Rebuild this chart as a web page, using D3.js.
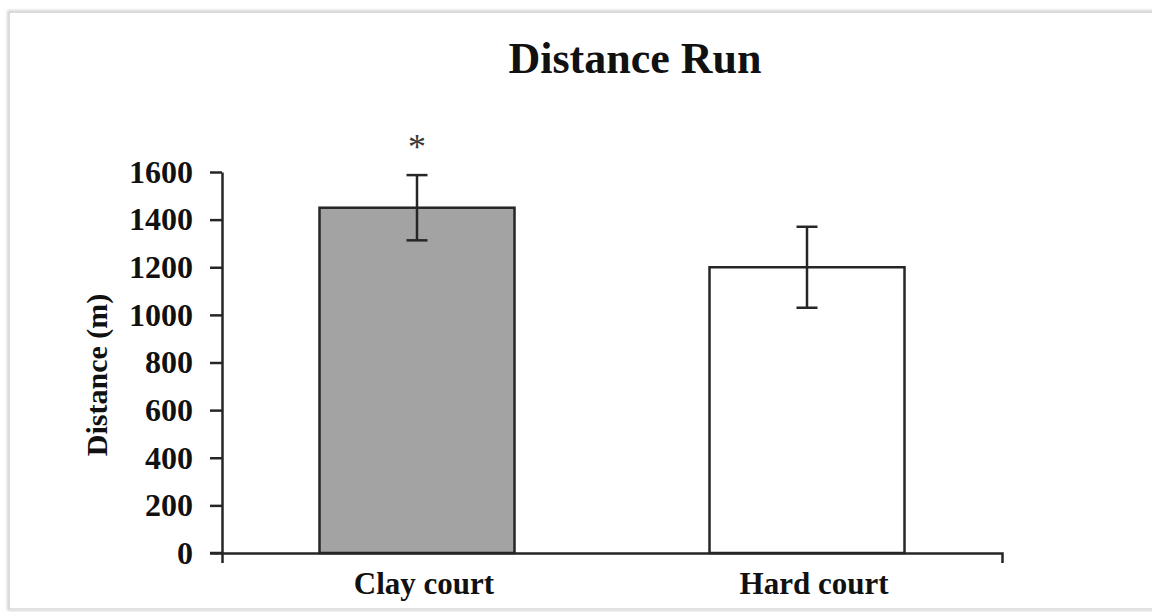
<!DOCTYPE html>
<html>
<head>
<meta charset="utf-8">
<script src="https://cdn.jsdelivr.net/npm/d3@7"></script>
<style>
  body { margin: 0; background: #fff; }
  text { font-family: "Liberation Serif", "Times New Roman", serif; }
</style>
</head>
<body>
<script>
// data
var courts = ['Clay court', 'Hard court'];
var distance = [1450, 1200];
var sd = [137, 170];
var sig = ['*', ''];
var barColors = ['#a3a3a3', '#ffffff'];
var yTicks = [0, 200, 400, 600, 800, 1000, 1200, 1400, 1600];

var W = 1152, H = 612;

var svg = d3.select('body').append('svg')
    .attr('width', W)
    .attr('height', H);

// frame with soft shadow like the scanned figure
var defs = svg.append('defs');
var blur = defs.append('filter').attr('id', 'sh').attr('x', '-5%').attr('y', '-5%')
    .attr('width', '110%').attr('height', '110%');
blur.append('feGaussianBlur').attr('stdDeviation', 1.5);

svg.append('rect')
    .attr('x', 9).attr('y', 12)
    .attr('width', 1160).attr('height', 597)
    .attr('fill', 'none')
    .attr('stroke', '#c8c8c8')
    .attr('stroke-width', 3)
    .attr('filter', 'url(#sh)');
svg.append('rect')
    .attr('x', 10).attr('y', 13)
    .attr('width', 1160).attr('height', 595)
    .attr('fill', '#fff');
svg.append('line')
    .attr('x1', 10).attr('x2', W)
    .attr('y1', 609).attr('y2', 609)
    .attr('stroke', '#e2e2e2').attr('stroke-width', 2);

var x = d3.scaleBand()
    .domain(courts)
    .range([222, 1002])
    .paddingInner(0.5)
    .paddingOuter(0.25);

var y = d3.scaleLinear()
    .domain([0, 1600])
    .range([553, 172]);

var ink = '#262626';

// title
svg.append('text')
    .attr('x', 635)
    .attr('y', 73)
    .attr('text-anchor', 'middle')
    .attr('font-size', 44)
    .attr('font-weight', 'bold')
    .attr('fill', '#111')
    .text('Distance Run');

// y axis
var yAxis = svg.append('g')
    .attr('transform', 'translate(222,0)')
    .call(d3.axisLeft(y).tickValues(yTicks).tickFormat(d3.format('d'))
        .tickSize(12).tickSizeOuter(0).tickPadding(17));
yAxis.selectAll('text')
    .attr('font-size', 32)
    .attr('font-weight', 'bold')
    .attr('fill', '#111')
    .style('font-family', '"Liberation Serif", serif');

// bars
svg.selectAll('.bar')
    .data(courts)
    .enter().append('rect')
    .attr('class', 'bar')
    .attr('x', function(d) { return x(d); })
    .attr('y', function(d, i) { return y(distance[i]); })
    .attr('width', x.bandwidth())
    .attr('height', function(d, i) { return y(0) - y(distance[i]); })
    .attr('fill', function(d, i) { return barColors[i]; })
    .attr('stroke', ink)
    .attr('stroke-width', 2.5);

// x axis (drawn after the bars so the baseline sits on top)
var xAxis = svg.append('g')
    .attr('transform', 'translate(0,553)')
    .call(d3.axisBottom(x).tickSizeInner(0).tickSizeOuter(10).tickPadding(19));
xAxis.selectAll('text')
    .attr('font-size', 31)
    .attr('font-weight', 'bold')
    .attr('fill', '#111')
    .attr('dx', 7)
    .style('font-family', '"Liberation Serif", serif');

svg.selectAll('.domain, .tick line')
    .attr('stroke', ink)
    .attr('stroke-width', 2.5);

// extend the zero line to the left over the 0 tick
svg.append('line')
    .attr('x1', 210).attr('x2', 222)
    .attr('y1', y(0)).attr('y2', y(0))
    .attr('stroke', ink).attr('stroke-width', 2.5);

// error bars
var err = svg.selectAll('.err')
    .data(courts)
    .enter().append('g')
    .attr('class', 'err')
    .attr('stroke', ink)
    .attr('stroke-width', 2.5);

err.append('line')
    .attr('x1', function(d) { return x(d) + x.bandwidth() / 2; })
    .attr('x2', function(d) { return x(d) + x.bandwidth() / 2; })
    .attr('y1', function(d, i) { return y(distance[i] + sd[i]); })
    .attr('y2', function(d, i) { return y(distance[i] - sd[i]); });
err.append('line')
    .attr('x1', function(d) { return x(d) + x.bandwidth() / 2 - 10.5; })
    .attr('x2', function(d) { return x(d) + x.bandwidth() / 2 + 10.5; })
    .attr('y1', function(d, i) { return y(distance[i] + sd[i]); })
    .attr('y2', function(d, i) { return y(distance[i] + sd[i]); });
err.append('line')
    .attr('x1', function(d) { return x(d) + x.bandwidth() / 2 - 10.5; })
    .attr('x2', function(d) { return x(d) + x.bandwidth() / 2 + 10.5; })
    .attr('y1', function(d, i) { return y(distance[i] - sd[i]); })
    .attr('y2', function(d, i) { return y(distance[i] - sd[i]); });

// significance mark
svg.selectAll('.sig')
    .data(courts)
    .enter().append('text')
    .attr('class', 'sig')
    .attr('x', function(d) { return x(d) + x.bandwidth() / 2; })
    .attr('y', function(d, i) { return y(distance[i] + sd[i]) - 16; })
    .attr('text-anchor', 'middle')
    .attr('font-size', 36)
    .attr('fill', '#3a3a3a')
    .text(function(d, i) { return sig[i]; });

// y axis title
svg.append('text')
    .attr('transform', 'translate(107,375) rotate(-90)')
    .attr('text-anchor', 'middle')
    .attr('font-size', 30)
    .attr('font-weight', 'bold')
    .attr('fill', '#111')
    .text('Distance (m)');
</script>
</body>
</html>
